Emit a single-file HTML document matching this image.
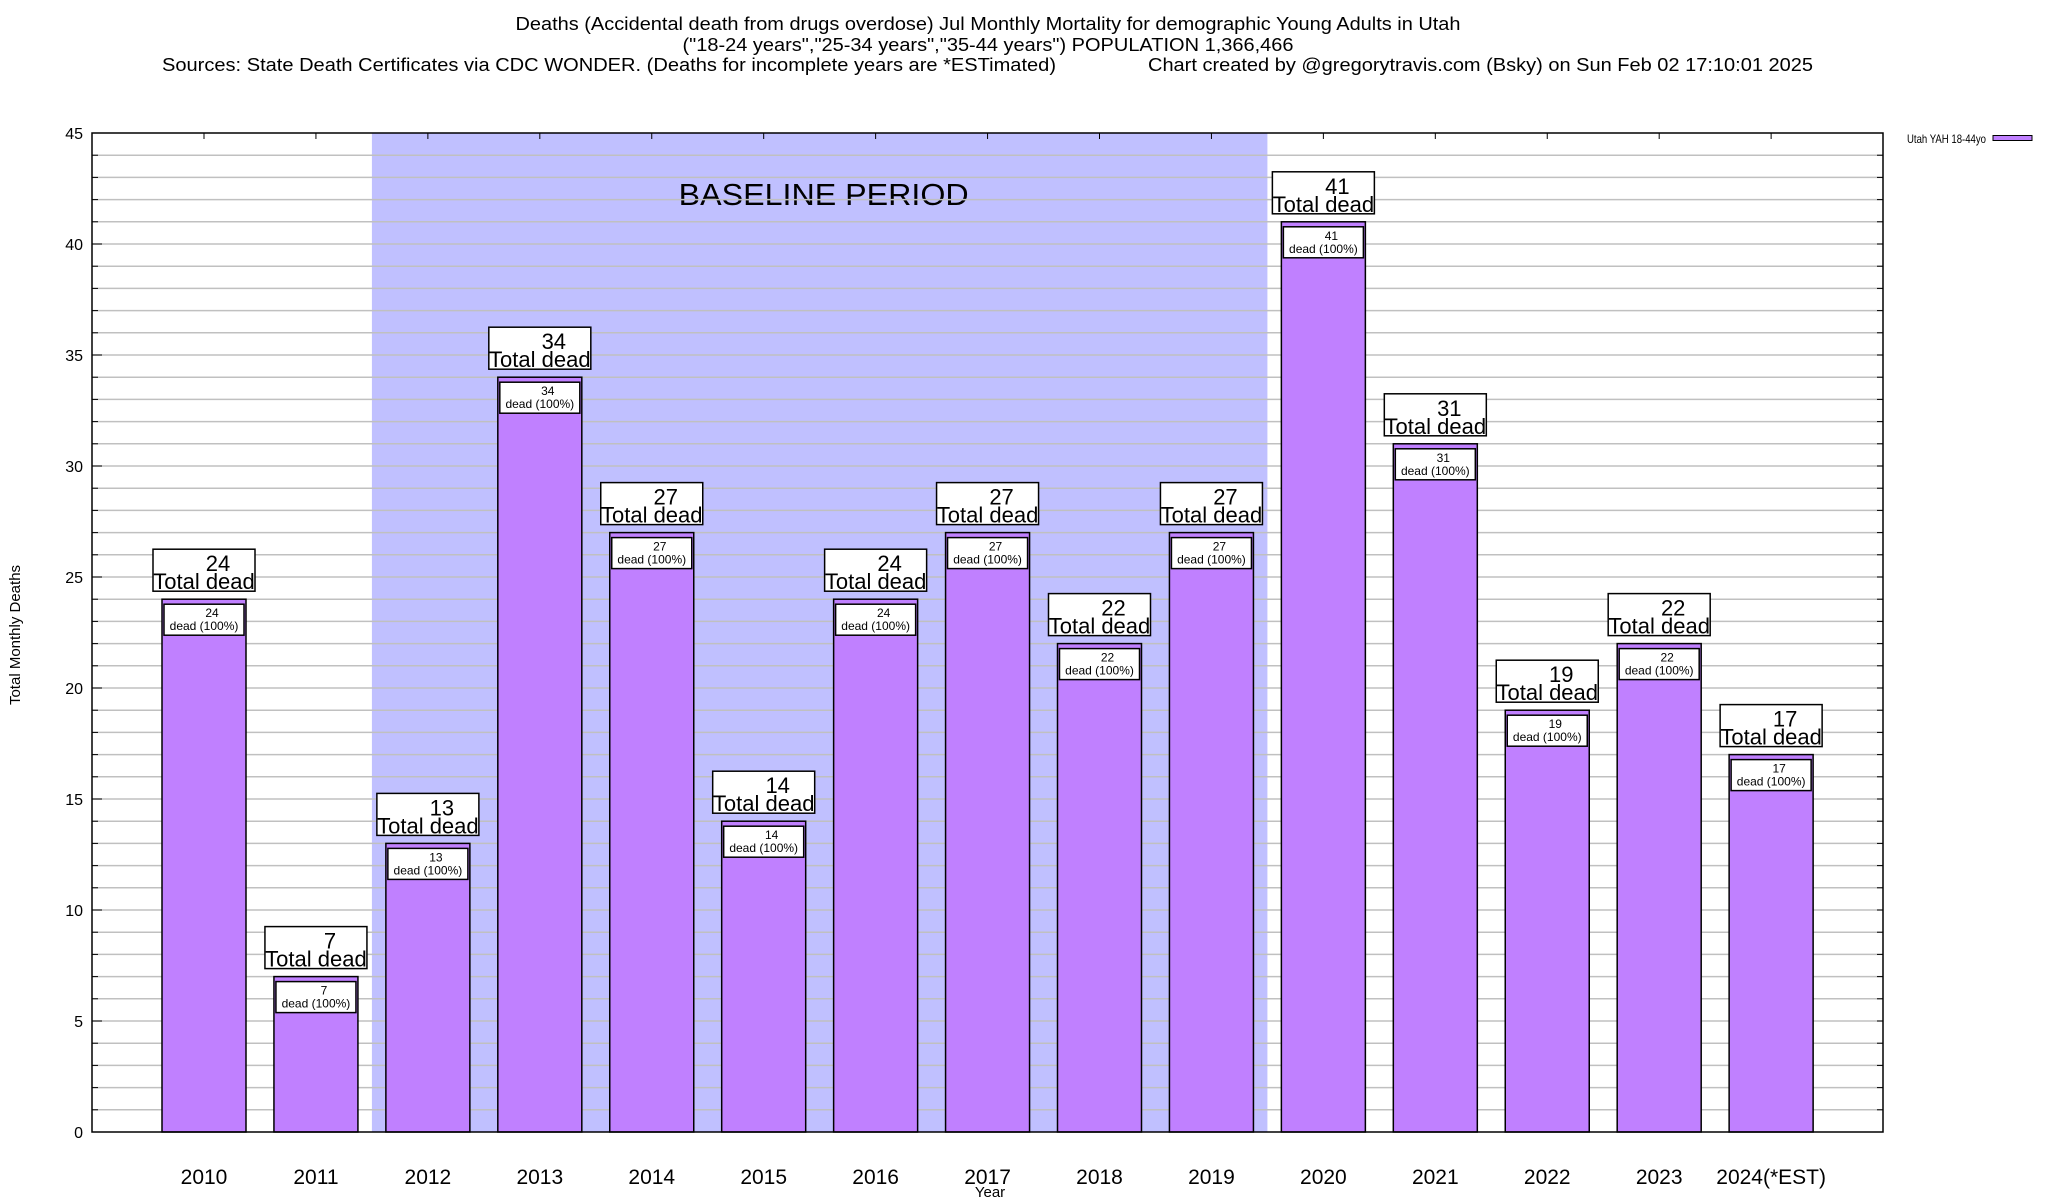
<!DOCTYPE html>
<html><head><meta charset="utf-8"><style>
html,body{margin:0;padding:0;background:#fff;}
svg{display:block;font-family:"Liberation Sans",Arial,sans-serif;}
</style></head><body>
<svg id="chart" width="2048" height="1200" viewBox="0 0 2048 1200" xmlns="http://www.w3.org/2000/svg">
<rect width="2048" height="1200" fill="#fff"/>
<g font-size="18" fill="#000">
<text x="988" y="30" text-anchor="middle" textLength="945" lengthAdjust="spacingAndGlyphs">Deaths (Accidental death from drugs overdose) Jul Monthly Mortality for demographic Young Adults in Utah</text>
<text x="988" y="51" text-anchor="middle" textLength="611" lengthAdjust="spacingAndGlyphs">("18-24 years","25-34 years","35-44 years") POPULATION 1,366,466</text>
<text x="162" y="71" textLength="894" lengthAdjust="spacingAndGlyphs">Sources: State Death Certificates via CDC WONDER. (Deaths for incomplete years are *ESTimated)</text>
<text x="1148" y="71" textLength="665" lengthAdjust="spacingAndGlyphs">Chart created by @gregorytravis.com (Bsky) on Sun Feb 02 17:10:01 2025</text>
</g>
<g id="plot"></g>
<text transform="translate(20,635) rotate(-90)" text-anchor="middle" font-size="15">Total Monthly Deaths</text>
<text x="990" y="1197" text-anchor="middle" font-size="15">Year</text>
<g>
<text x="1986" y="143" text-anchor="end" font-size="12" textLength="79" lengthAdjust="spacingAndGlyphs">Utah YAH 18-44yo</text>
<rect x="1993" y="135.5" width="39" height="5" fill="#c080ff" stroke="#000" stroke-width="1"/>
</g>
</svg>
<script>
const categories = ["2010","2011","2012","2013","2014","2015","2016","2017","2018","2019","2020","2021","2022","2023","2024(*EST)"];
const values = [24,7,13,34,27,14,24,27,22,27,41,31,19,22,17];
const yTicks = [0,5,10,15,20,25,30,35,40,45];
const baselineStart = 1.5, baselineEnd = 9.5;

const L=92,R=1883,T=133,B=1132,yMax=45;
const xs = i => 204 + (i)*((R-L)/16);
const ys = v => B - (B-T)*v/yMax;
const NS="http://www.w3.org/2000/svg";
const plot=document.getElementById('plot');
function mk(tag,attrs,parent,text){const e=document.createElementNS(NS,tag);for(const k in attrs)e.setAttribute(k,attrs[k]);if(text!==undefined)e.textContent=text;(parent||plot).appendChild(e);return e;}

// baseline shading
let sh=mk('rect',{x:xs(baselineStart),y:T,width:xs(baselineEnd)-xs(baselineStart),height:B-T,fill:'#c0c0ff'});


let bt=mk('text',{x:(xs(baselineStart)+xs(baselineEnd))/2+4,y:205,'text-anchor':'middle','font-size':'31',textLength:'290',lengthAdjust:'spacingAndGlyphs'},plot,'BASELINE PERIOD');



// gridlines
for(let v=1;v<yMax;v++){
  const g=mk('line',{x1:L,x2:R,y1:ys(v),y2:ys(v),stroke:'#c0c0c0','stroke-width':1.5});
  
  
  mk('line',{x1:L,x2:L+6,y1:ys(v),y2:ys(v),stroke:'#000','stroke-width':1});
  mk('line',{x1:R-6,x2:R,y1:ys(v),y2:ys(v),stroke:'#000','stroke-width':1});
}
yTicks.forEach(v=>{
  const t=mk('text',{x:L-9,y:ys(v)+6,'text-anchor':'end','font-size':'16'},plot,String(v));
  
  
  mk('line',{x1:L,x2:L+10,y1:ys(v),y2:ys(v),stroke:'#000','stroke-width':1});
});

// bars
categories.forEach((c,i)=>{
  const v=values[i],cx=xs(i),bw=84,top=ys(v);
  const b=mk('rect',{x:cx-bw/2,y:top,width:bw,height:B-top,fill:'#c080ff',stroke:'#000','stroke-width':1.5});
  
  
  const ib=mk('rect',{x:cx-bw/2+2,y:top+5,width:bw-4,height:31,fill:'#fff',stroke:'#000','stroke-width':1.5});
  
  
  mk('text',{x:cx+8,y:top+18,'text-anchor':'middle','font-size':'12'},plot,String(v));
  mk('text',{x:cx,y:top+31,'text-anchor':'middle','font-size':'12'},plot,'dead (100%)');
  const ob=mk('rect',{x:cx-51,y:top-50,width:102,height:42,fill:'#fff',stroke:'#000','stroke-width':1.5});
  
  
  mk('text',{x:cx+14,y:top-28,'text-anchor':'middle','font-size':'22'},plot,String(v));
  mk('text',{x:cx,y:top-10,'text-anchor':'middle','font-size':'22'},plot,'Total dead');
  const xl=mk('text',{x:cx,y:1184,'text-anchor':'middle','font-size':'21'},plot,c);
  
  
  mk('line',{x1:cx,x2:cx,y1:T,y2:T+6,stroke:'#000','stroke-width':1});
});

// axes frame
const fr=mk('rect',{x:L,y:T,width:R-L,height:B-T,fill:'none',stroke:'#000','stroke-width':1.5});


</script>
</body></html>
